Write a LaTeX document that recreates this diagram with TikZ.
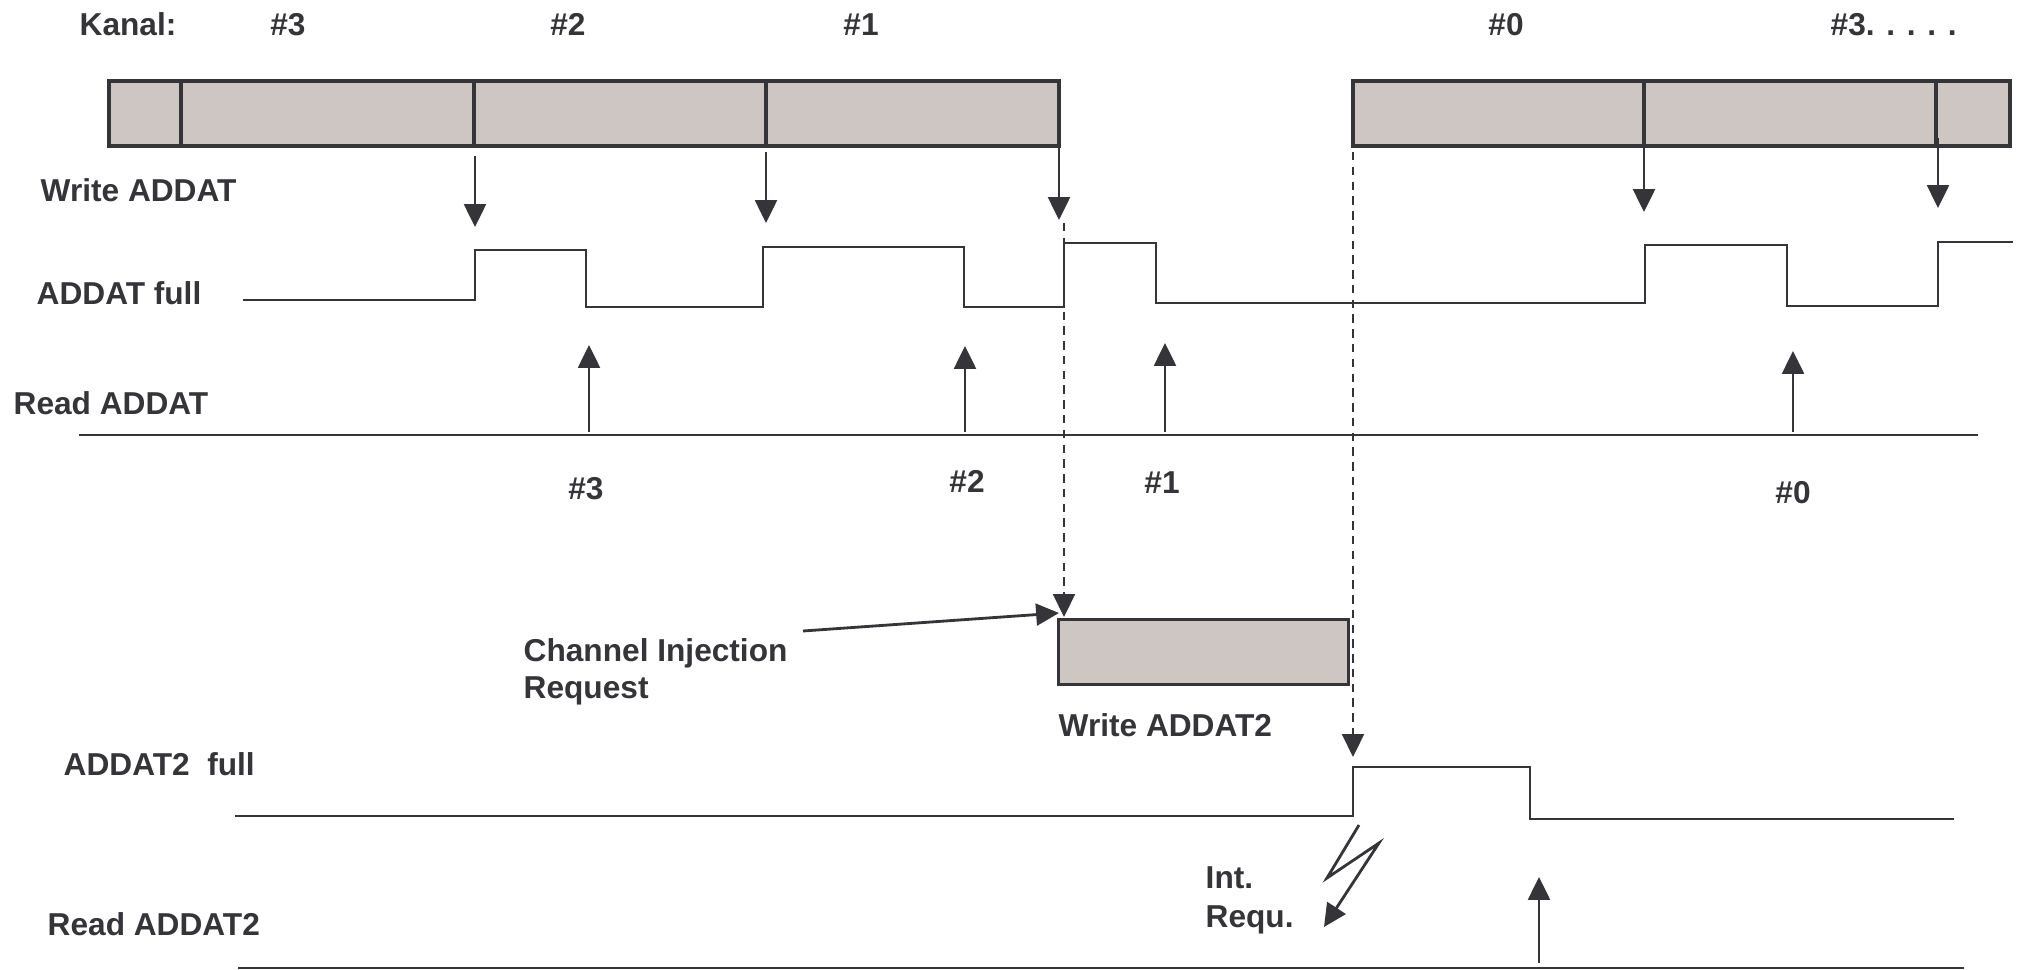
\documentclass[tikz,border=0pt]{standalone}
\usepackage{fontspec}
\setmainfont{Liberation Sans}
\usetikzlibrary{arrows.meta}
\definecolor{ink}{RGB}{52,52,57}
\definecolor{slot}{RGB}{206,198,195}
\tikzset{
  lbl/.style={font=\bfseries\fontsize{9}{10.4}\selectfont, text=ink, inner sep=0pt, anchor=base west},
  num/.style={font=\bfseries\fontsize{9}{10.4}\selectfont, text=ink, inner sep=0pt, anchor=base},
  sig/.style={draw=ink, line width=0.8pt},
  slotbox/.style={draw=ink, fill=slot, line width=0.9pt},
  hint/.style={draw=ink, line width=0.7pt, dash pattern=on 2.4pt off 1.8pt},
  ev/.style={draw=ink, line width=0.8pt},
}
\begin{document}
\begin{tikzpicture}[x=0.01cm,y=-0.01cm,>={Triangle[length=6.5pt,width=6.2pt]}]
\useasboundingbox (0,0) rectangle (2017,970);

% row labels
\node[lbl] (kanal) at (79,36) {Kanal:};
\node[lbl] (wrlbl) at (40,202) {Write ADDAT};
\node[lbl] (fulllbl) at (36,305) {ADDAT full};
\node[lbl] (rdlbl) at (13,415) {Read ADDAT};
\node[lbl] (full2lbl) at (63,775) {ADDAT2\ \ full};
\node[lbl] (rd2lbl) at (47,935) {Read ADDAT2};

% channel numbers
\node[num] (ch3) at (288,36) {\#3};
\node[num] (ch2) at (568,36) {\#2};
\node[num] (ch1) at (861,36) {\#1};
\node[num] (ch0) at (1506,36) {\#0};
\node[lbl] (chn) at (1830,36) {\#3. . . . .};

% conversion slots
\foreach \a/\b in {109/181,181/474,474/766,766/1059,1353/1644,1644/1936,1936/2010}
  \draw[slotbox] (\a,81) rectangle (\b,146);

% write ADDAT
\foreach \x/\a/\b in {475/156/227,766/152/223,1059/148/220,1644/147/212,1938/138/208}
  \draw[ev,->] (\x,\a)--(\x,\b);

% ADDAT full
\draw[sig] (243,300)--(475,300)--(475,250)--(586,250)--(586,307)
  --(763,307)--(763,247)--(964,247)--(964,307)--(1064,307)
  --(1064,243)--(1156,243)--(1156,303)--(1645,303)--(1645,245)
  --(1787,245)--(1787,306)--(1938,306)--(1938,242)--(2013,242);

% read ADDAT
\draw[sig] (79,435)--(1978,435);
\foreach \x/\b in {589/345,965/346,1165/343,1793/351}
  \draw[ev,->] (\x,432)--(\x,\b);
\node[num] (rd3) at (586,499) {\#3};
\node[num] (rd2) at (967,492) {\#2};
\node[num] (rd1) at (1162,494) {\#1};
\node[num] (rd0) at (1793,503) {\#0};

% injected channel
\node[draw=ink, fill=slot, line width=0.9pt, minimum width=2.9cm, minimum height=0.65cm,
  inner sep=0pt, anchor=north west] (wr2) at (1057,618) {};
\node[lbl] (wr2lbl) at (1058,736) {Write ADDAT2};
\node[lbl, align=left, anchor=north west] (cir) at (523,638) {Channel Injection\\Request};
\coordinate (cirtail) at (803,631);
\coordinate (cirtip) at (1059,613);
\draw[ev,->] (cirtail)--(cirtip);

\draw[hint,->] (1064,223)--(1064,617);
\draw[hint,->] (1353,152)--(1353,757);

% ADDAT2 full
\draw[sig] (235,816)--(1353,816)--(1353,767)--(1530,767)--(1530,819)--(1954,819);

% interrupt request
\draw[ev,->] (1359,825)--(1327,878)--(1379,843)--(1324,927);
\node[lbl] (intr) at (1205,888) {Int.};
\node[lbl] (requ) at (1205,927) {Requ.};

% read ADDAT2
\draw[sig] (238,968)--(1964,968);
\draw[ev,->] (1539,963)--(1539,877);
\end{tikzpicture}
\end{document}
